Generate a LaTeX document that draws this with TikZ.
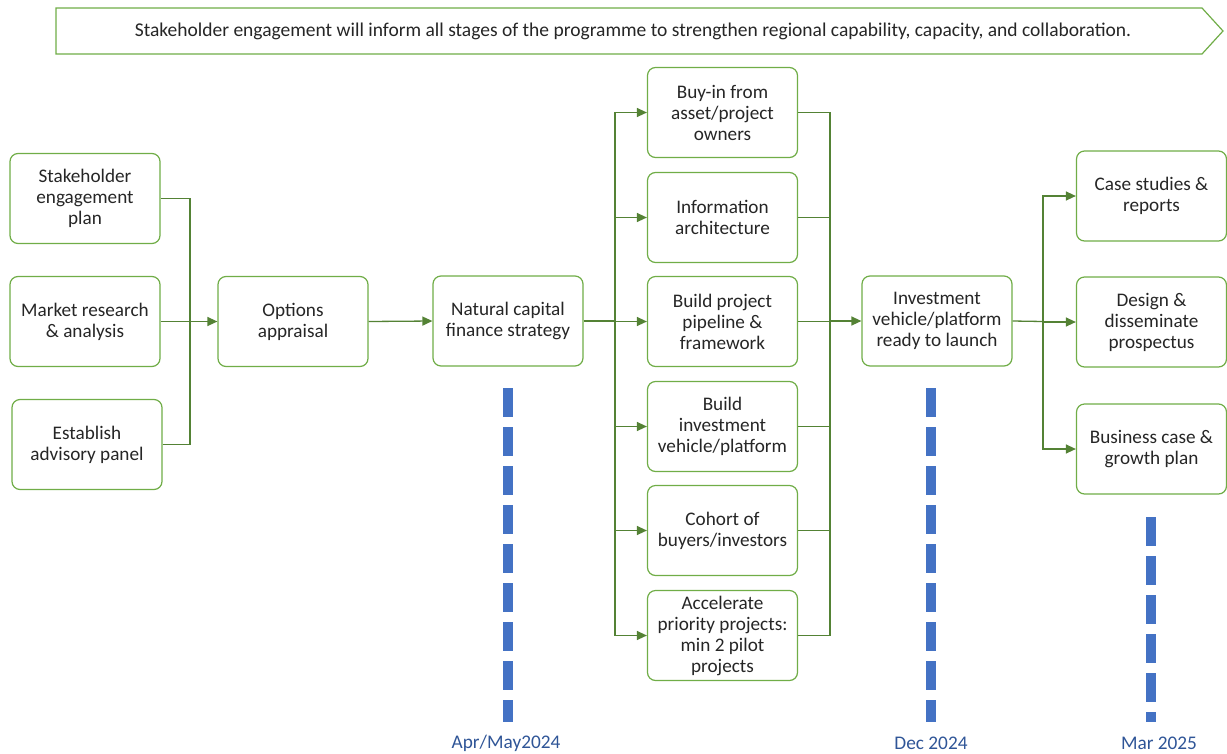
\documentclass[tikz,border=0pt]{standalone}
\usepackage{fontspec}
\setmainfont{Carlito}
\usetikzlibrary{arrows.meta}
\definecolor{boxgreen}{HTML}{70AD47}
\definecolor{linegreen}{HTML}{548235}
\definecolor{dashblue}{HTML}{4472C4}
\definecolor{labblue}{HTML}{2F5597}
\definecolor{txt}{HTML}{262626}
\tikzset{
  stagebox/.style={draw=boxgreen, line width=1.2pt, rounded corners=8pt, fill=white,
    minimum width=150pt, minimum height=90pt, align=center, inner sep=1pt,
    text=txt, font=\fontsize{19.2}{21}\selectfont},
  conn/.style={draw=linegreen, line width=1.3pt},
  arr/.style={conn, -{Triangle[length=10pt,width=9pt]}},
  milestone/.style={draw=dashblue, line width=10pt, dash pattern=on 29pt off 10pt},
  datelab/.style={text=labblue, font=\fontsize{19.3}{21}\selectfont, inner sep=0pt},
}
\begin{document}
\begin{tikzpicture}[x=1pt,y=-1pt]
\useasboundingbox (0,0) rectangle (1227,753);

% banner
\draw[draw=boxgreen, line width=1.2pt, fill=white] (56,8) -- (1202,8) -- (1223,31) -- (1202,54) -- (56,54) -- cycle;
\node[text=txt, font=\fontsize{19.5}{21}\selectfont] (banner) at (633,31) {Stakeholder engagement will inform all stages of the programme to strengthen regional capability, capacity, and collaboration.};

% left column
\node[stagebox] (sep) at (85,198.5) {Stakeholder\\engagement\\plan};
\node[stagebox] (mr) at (85,321.5) {Market research\\\& analysis};
\node[stagebox] (eap) at (87,444.5) {Establish\\advisory panel};
\node[stagebox] (opt) at (293,321.5) {Options\\appraisal};
\node[stagebox] (ncfs) at (508,321) {Natural capital\\finance strategy};

% middle column
\node[stagebox] (buy) at (722.5,112.5) {Buy-in from\\asset/project\\owners};
\node[stagebox] (info) at (722.5,217.5) {Information\\architecture};
\node[stagebox] (pipe) at (722.5,321.5) {Build project\\pipeline \&\\framework};
\node[stagebox] (veh) at (722.5,426.5) {Build\\investment\\vehicle/platform};
\node[stagebox] (coh) at (722.5,530.5) {Cohort of\\buyers/investors};
\node[stagebox] (acc) at (722.5,635.5) {Accelerate\\priority projects:\\min 2 pilot\\projects};

\node[stagebox] (inv) at (937,321) {Investment\\vehicle/platform\\ready to launch};

% right column
\node[stagebox] (cs) at (1151.5,196) {Case studies \&\\reports};
\node[stagebox] (dis) at (1151.5,322) {Design \&\\disseminate\\prospectus};
\node[stagebox] (bc) at (1151.5,449) {Business case \&\\growth plan};

% connectors
\coordinate (lbus) at (190,321.5);
\draw[conn] (sep.east) -| (lbus);
\draw[conn] (eap.east) -| (lbus);
\draw[arr] (mr.east) -- (opt.west);
\draw[arr] (opt.east) -- (ncfs.west);

\coordinate (mbus) at (615,321);
\draw[conn] (ncfs.east) -- (mbus);
\foreach \b in {buy,info,pipe,veh,coh,acc}{
  \draw[arr] (mbus) |- (\b.west);
}
\coordinate (rbus) at (830,321);
\foreach \b in {buy,info,pipe,veh,coh,acc}{
  \draw[conn] (\b.east) -| (rbus);
}
\draw[arr] (rbus) -- (inv.west);

\coordinate (obus) at (1043,321.5);
\draw[conn] (inv.east) -- (obus);
\draw[arr] (obus) |- (cs.west);
\draw[arr] (obus) |- (dis.west);
\draw[arr] (obus) |- (bc.west);

% milestones
\draw[milestone] (508,388) -- (508,722);
\draw[milestone] (931,388) -- (931,722);
\draw[milestone] (1151,517) -- (1151,722);
\node[datelab] (d1) at (506,743) {Apr/May2024};
\node[datelab] (d2) at (931,743) {Dec 2024};
\node[datelab] (d3) at (1159,743) {Mar 2025};
\end{tikzpicture}
\end{document}
